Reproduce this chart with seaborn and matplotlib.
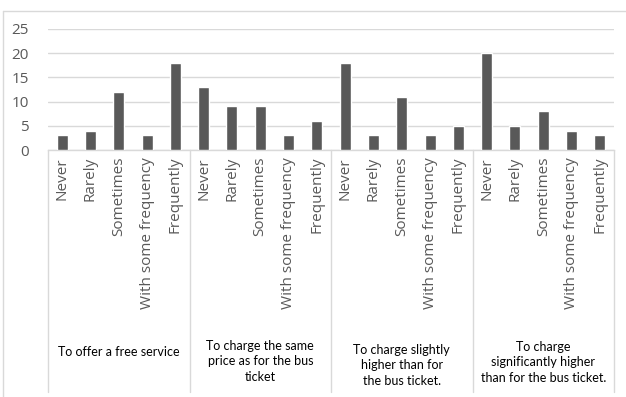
import numpy as np
import pandas as pd
import matplotlib
matplotlib.use("Agg")
import matplotlib.pyplot as plt
import matplotlib.transforms as mtransforms
from matplotlib.lines import Line2D
import seaborn as sns

# Survey responses per pricing option
groups = [
    "To offer a free service",
    "To charge the same\nprice as for the bus\nticket",
    "To charge slightly\nhigher than for\nthe bus ticket.",
    "To charge\nsignificantly higher\nthan for the bus ticket.",
]
responses = ["Never", "Rarely", "Sometimes", "With some frequency", "Frequently"]
free_service = [3, 4, 12, 3, 18]
same_price = [13, 9, 9, 3, 6]
slightly_higher = [18, 3, 11, 3, 5]
significantly_higher = [20, 5, 8, 4, 3]
y_ticks = [0, 5, 10, 15, 20, 25]

series = [free_service, same_price, slightly_higher, significantly_higher]
rows = []
for gi, (g, vals) in enumerate(zip(groups, series)):
    for ri, (r, v) in enumerate(zip(responses, vals)):
        rows.append({"slot": f"{gi}-{r}", "group": g, "response": r, "count": v})
df = pd.DataFrame(rows)

sns.set_theme(style="white")
plt.rcParams["font.family"] = ["Open Sans", "DejaVu Sans"]

W, H = 626, 397
fig = plt.figure(figsize=(W / 100, H / 100), dpi=100)
ax = fig.add_axes([48 / W, 1 - 150 / H, 566 / W, 121 / H])

sns.barplot(data=df, x="slot", y="count", color="#595959", width=0.39,
            saturation=1, ax=ax, zorder=3)

ax.set_ylim(0, 25)
ax.set_xlim(-0.5, len(df) - 0.5)
ax.set_yticks(y_ticks)
ax.set_yticklabels([str(t) for t in y_ticks], fontsize=11, color="#595959")
ax.yaxis.grid(True, color="#d9d9d9", linewidth=1.0, zorder=0)
ax.set_xticks(range(len(df)))
ax.set_xticklabels(df["response"], rotation=90, fontsize=11, color="#595959",
                   va="top", ha="center")
ax.tick_params(axis="both", length=0)
ax.tick_params(axis="y", pad=14)
ax.tick_params(axis="x", pad=5)
ax.set_xlabel("")
ax.set_ylabel("")
for side in ["top", "right", "left"]:
    ax.spines[side].set_visible(False)
ax.spines["bottom"].set_color("#d9d9d9")
ax.spines["bottom"].set_linewidth(1.0)

# Group separators below the category axis
trans = mtransforms.blended_transform_factory(ax.transData, ax.transAxes)
bottom_y = -(392 - 150) / 121
for xb in [-0.5, 4.5, 9.5, 14.5, 19.5]:
    ax.add_line(Line2D([xb, xb], [0, bottom_y], transform=trans, color="#d9d9d9",
                       linewidth=1.0, clip_on=False))

# Group labels
label_y = [352, 361, 365, 362]
for gi, g in enumerate(groups):
    ax.text(gi * 5 + 2, -(label_y[gi] - 150) / 121, g, transform=trans,
            ha="center", va="center", fontsize=9, color="black",
            linespacing=1.35, family=["Lato", "DejaVu Sans"])

# Chart frame
fig.add_artist(Line2D([3 / W, 1], [1 - 11 / H, 1 - 11 / H], transform=fig.transFigure,
                      color="#d9d9d9", linewidth=1.0))
fig.add_artist(Line2D([3 / W, 3 / W], [0, 1 - 11 / H], transform=fig.transFigure,
                      color="#d9d9d9", linewidth=1.0))

fig.savefig("out.png", dpi=100)
